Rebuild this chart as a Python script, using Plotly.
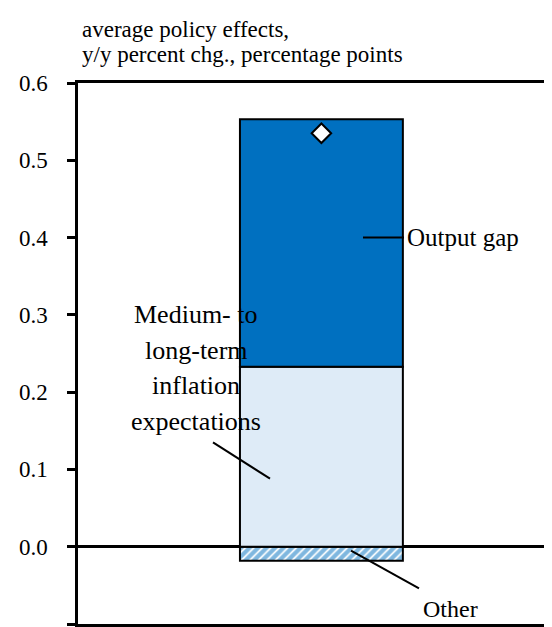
import plotly.graph_objects as go

# ---- data ----
categories = ["Average policy effects"]
other = [-0.018]
inflation_expectations = [0.233]
output_gap = [0.320]
total = [0.535]

tick_values = [-0.1, 0.0, 0.1, 0.2, 0.3, 0.4, 0.5, 0.6]
tick_labels = ["-0.1", "0.0", "0.1", "0.2", "0.3", "0.4", "0.5", "0.6"]

title_lines = ["average policy effects,", "y/y percent chg., percentage points"]
medium_label_lines = ["Medium- to", "long-term", "inflation", "expectations"]

FONT = "Liberation Serif, Times New Roman, serif"
DARK = "#0070C0"
LIGHT = "#DEEBF7"

fig = go.Figure()

fig.add_trace(go.Bar(
    x=categories, y=other, width=0.338,
    marker=dict(color="white", line=dict(color="black", width=2),
                pattern=dict(shape="/", fgcolor=DARK, bgcolor="white",
                             size=6, solidity=0.7)),
    name="Other", showlegend=False))
fig.add_trace(go.Bar(
    x=categories, y=inflation_expectations, width=0.338,
    marker=dict(color=LIGHT, line=dict(color="black", width=2)),
    name="Medium- to long-term inflation expectations", showlegend=False))
fig.add_trace(go.Bar(
    x=categories, y=output_gap, width=0.338,
    marker=dict(color=DARK, line=dict(color="black", width=2)),
    name="Output gap", showlegend=False))
fig.add_trace(go.Scatter(
    x=categories, y=total, mode="markers",
    marker=dict(symbol="diamond", size=15, color="white",
                line=dict(color="black", width=2)),
    name="Total", showlegend=False))

fig.update_layout(
    barmode="relative",
    width=552, height=627,
    margin=dict(l=70, r=0, t=75, b=11),
    paper_bgcolor="white", plot_bgcolor="white",
    font=dict(family=FONT, size=23, color="black"),
    xaxis=dict(range=[-0.505, 0.495], showticklabels=False, ticks="",
               showgrid=False, showline=True, linecolor="black",
               linewidth=2.5, mirror=True, zeroline=False),
    yaxis=dict(range=[-0.1, 0.6], tickvals=tick_values, ticktext=tick_labels,
               showgrid=False, showline=True, linecolor="black", linewidth=2.5,
               ticks="outside", ticklen=8, tickwidth=2.5, tickcolor="black",
               ticklabelstandoff=15,
               zeroline=True, zerolinecolor="black", zerolinewidth=2.5,
               tickfont=dict(family=FONT, size=23)),
)

# title lines
for txt, py in zip(title_lines, [21, 46]):
    fig.add_annotation(text=txt, xref="paper", yref="paper",
                       x=(72 - 70) / 482, y=(616 - py) / 541.3,
                       xanchor="left", yanchor="middle", showarrow=False,
                       font=dict(family=FONT, size=23))

# Medium- to long-term label
for txt, yv in zip(medium_label_lines, [0.300, 0.254, 0.208, 0.162]):
    fig.add_annotation(text=txt, xref="paper", yref="y",
                       x=(188 - 70) / 482, y=yv, xanchor="center",
                       yanchor="middle", showarrow=False,
                       font=dict(family=FONT, size=26))

# Output gap label
fig.add_annotation(text="Output gap", xref="paper", yref="y",
                   x=(397 - 70) / 482, y=0.4, xanchor="left", yanchor="middle",
                   showarrow=False, font=dict(family=FONT, size=25))
# Other label
fig.add_annotation(text="Other", xref="paper", yref="y",
                   x=(413 - 70) / 482, y=-0.08, xanchor="left",
                   yanchor="middle", showarrow=False,
                   font=dict(family=FONT, size=24))

def px(xp):
    return (xp - 70) / 482

leaders = [
    (px(355), 0.4, px(396), 0.4),
    (px(205), 0.135, px(262), 0.088),
    (px(343), -0.005, px(411), -0.054),
]
for x0, y0, x1, y1 in leaders:
    fig.add_shape(type="line", xref="paper", yref="y", x0=x0, y0=y0,
                  x1=x1, y1=y1, line=dict(color="black", width=2))

fig.write_html("out.html")
